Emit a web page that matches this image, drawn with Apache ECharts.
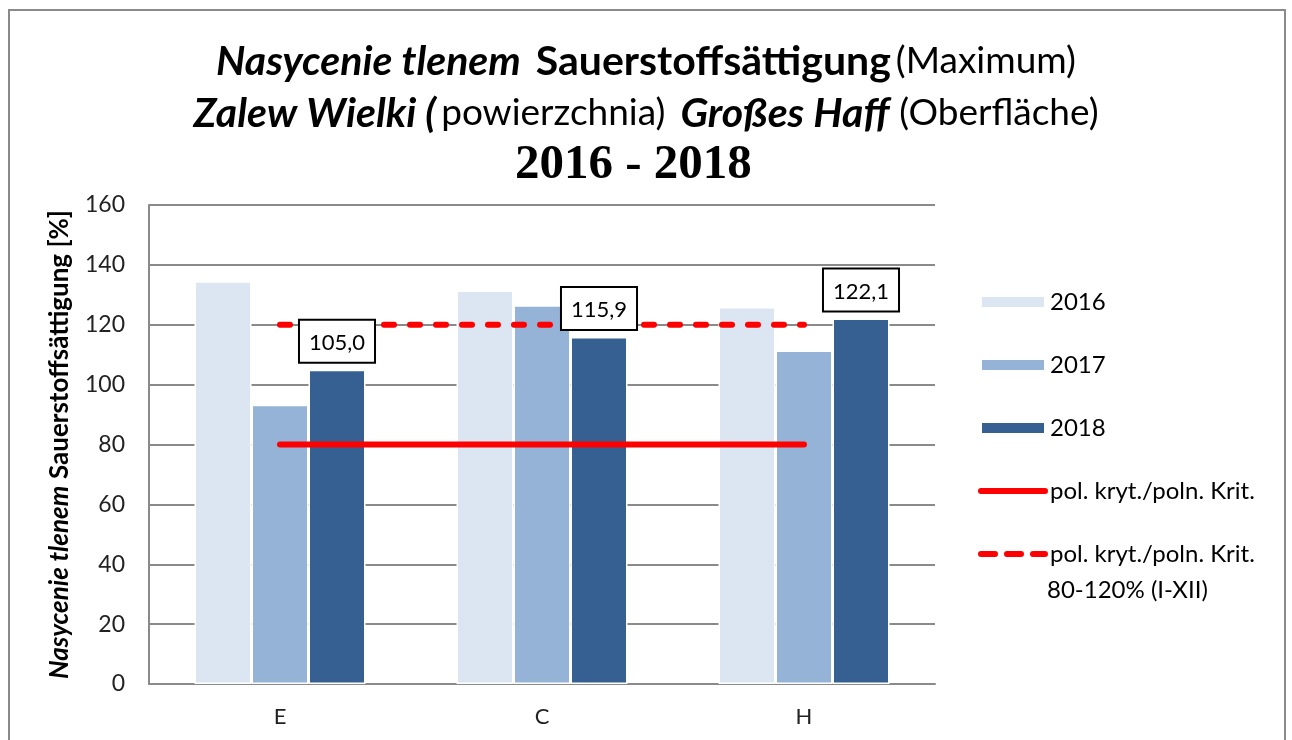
<!DOCTYPE html>
<html>
<head>
<meta charset="utf-8">
<title>Nasycenie tlenem</title>
<script src="https://cdn.jsdelivr.net/npm/echarts@6/dist/echarts.min.js"></script>
<style>
  html, body { margin: 0; padding: 0; background: #fff; }
  #main { width: 1292px; height: 740px; }
</style>
</head>
<body>
<div id="main"></div>
<script>
// dane
var stations = ['E', 'C', 'H'];
var v2016 = [134.5, 131.4, 125.9];
var v2017 = [93.3, 126.5, 111.4];
var v2018 = [105.0, 115.9, 122.1];
var critLow = [80, 80, 80];
var critHigh = [120, 120, 120];
var yTicks = { min: 0, max: 160, step: 20 };

var chart = echarts.init(document.getElementById('main'));

var labelStyle = {
  position: 'top',
  distance: 8,
  fontFamily: 'Lato',
  fontSize: 22,
  color: '#000',
  backgroundColor: '#fff',
  borderColor: '#000',
  borderWidth: 2,
  padding: [11, 9, 8, 9],
  formatter: function (p) { return p.value.toFixed(1).replace('.', ','); }
};

function bar(name, data, color, axis, withLabel) {
  var s = {
    name: name,
    type: 'bar',
    data: data,
    xAxisIndex: axis,
    barWidth: 57,
    barGap: '0%',
    z: 2,
    itemStyle: { color: color, borderColor: '#fff', borderWidth: 1.5 }
  };
  if (axis === 1) {
    // kopia tylko dla etykiet, nad liniami
    s.z = 5;
    s.silent = true;
    s.itemStyle = { color: 'rgba(0,0,0,0)' };
    s.label = withLabel ? Object.assign({ show: true }, labelStyle) : { show: false };
  }
  return s;
}

var titleRich = {
  bi: { fontFamily: 'Lato', fontSize: 41, fontWeight: 'bold', fontStyle: 'italic', color: '#000' },
  b: { fontFamily: 'Lato', fontSize: 41, fontWeight: 'bold', fontStyle: 'normal', color: '#000' },
  n: { fontFamily: 'Lato', fontSize: 37, fontWeight: 'normal', fontStyle: 'normal', color: '#000' },
  y: { fontFamily: 'Liberation Serif', fontSize: 49, fontWeight: 'bold', color: '#000' }
};

var option = {
  backgroundColor: '#fff',
  animation: false,
  title: [
    {
      left: 'center', top: 36,
      text: '{bi|Nasycenie tlenem}   {b|Sauerstoffsättigung} {n|(Maximum)}',
      textStyle: { rich: titleRich }
    },
    {
      left: 'center', top: 88,
      text: '{bi|Zalew Wielki (} {n|powierzchnia)}   {bi|Großes Haff}  {n|(Oberfläche)}',
      textStyle: { rich: titleRich }
    },
    {
      left: 510, top: 136,
      text: '{y|2016 - 2018}',
      textStyle: { rich: titleRich }
    }
  ],
  legend: {
    orient: 'vertical',
    left: 973,
    top: 285,
    itemWidth: 64,
    itemHeight: 12,
    itemGap: 39,
    textStyle: { fontFamily: 'Lato', fontSize: 24, color: '#000' },
    data: [
      { name: '2016', icon: 'rect' },
      { name: '2017', icon: 'rect' },
      { name: '2018', icon: 'rect' },
      { name: 'pol. kryt./poln. Krit.', itemStyle: { opacity: 0 }, lineStyle: { width: 6, cap: 'round' } },
      { name: 'pol. kryt./poln. Krit. ', itemStyle: { opacity: 0 }, lineStyle: { width: 6, type: [14, 12], cap: 'round' } }
    ]
  },
  graphic: [
    {
      type: 'rect',
      shape: { x: 9, y: 10, width: 1276, height: 740 },
      style: { fill: 'none', stroke: '#8a8a8a', lineWidth: 2 },
      silent: true
    },
    {
      type: 'text',
      left: 1047,
      top: 578,
      style: { text: '80-120% (I-XII)', fontFamily: 'Lato', fontSize: 24, fill: '#000' }
    }
  ],
  grid: { left: 149, right: 357, top: 205, bottom: 56 },
  xAxis: [
    {
      type: 'category',
      data: stations,
      axisTick: { show: false },
      axisLine: { lineStyle: { color: '#8a8a8a', width: 2 } },
      axisLabel: { fontFamily: 'Lato', fontSize: 22, color: '#222', margin: 22 }
    },
    { type: 'category', data: stations, show: false }
  ],
  yAxis: {
    type: 'value',
    min: yTicks.min,
    max: yTicks.max,
    interval: yTicks.step,
    name: '{i|Nasycenie tlenem}  {b|Sauerstoffsättigung [%]}',
    nameLocation: 'middle',
    nameGap: 76,
    nameTextStyle: {
      rich: {
        i: { fontFamily: 'Lato', fontSize: 26, fontStyle: 'italic', fontWeight: 'bold', color: '#000' },
        b: { fontFamily: 'Lato', fontSize: 26, fontWeight: 'bold', color: '#000' }
      }
    },
    axisLine: { show: true, lineStyle: { color: '#8a8a8a', width: 2 } },
    axisTick: { show: false },
    axisLabel: { fontFamily: 'Lato', fontSize: 23, color: '#222', margin: 24 },
    splitLine: { lineStyle: { color: '#8a8a8a', width: 2 } }
  },
  series: [
    bar('2016', v2016, '#DCE6F2', 0),
    bar('2017', v2017, '#95B3D7', 0),
    bar('2018', v2018, '#376092', 0),
    {
      name: 'pol. kryt./poln. Krit.',
      type: 'line',
      data: critLow,
      symbol: 'none',
      z: 3,
      lineStyle: { color: '#FF0000', width: 6, cap: 'round' },
      itemStyle: { color: '#FF0000' }
    },
    {
      name: 'pol. kryt./poln. Krit. ',
      type: 'line',
      data: critHigh,
      symbol: 'none',
      z: 3,
      lineStyle: { color: '#FF0000', width: 6, type: [10, 16], cap: 'round' },
      itemStyle: { color: '#FF0000' }
    },
    bar('l2016', v2016, null, 1, false),
    bar('l2017', v2017, null, 1, false),
    bar('l2018', v2018, null, 1, true)
  ]
};

chart.setOption(option);
</script>
</body>
</html>
